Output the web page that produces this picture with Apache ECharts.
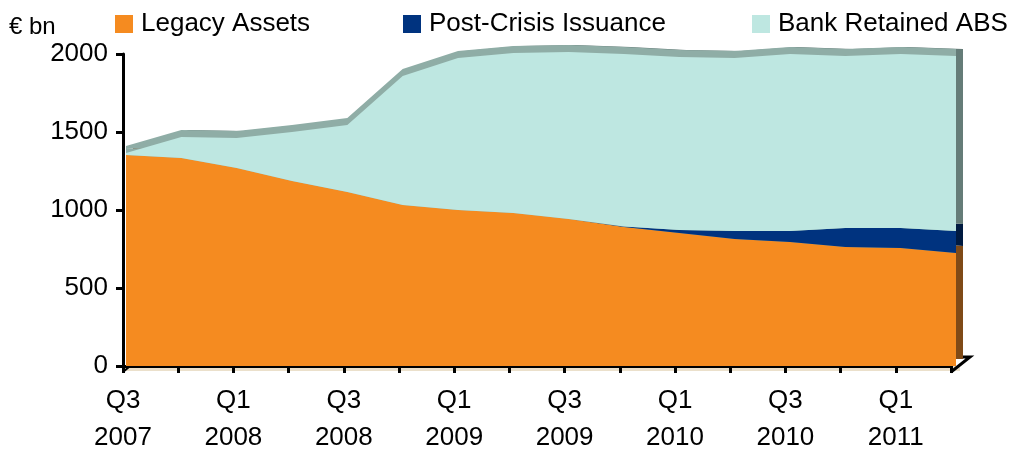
<!DOCTYPE html>
<html>
<head>
<meta charset="utf-8">
<script src="https://cdn.jsdelivr.net/npm/echarts@6/dist/echarts.min.js"></script>
<style>
  html, body { margin: 0; padding: 0; background: #fff; }
  #chart { width: 1013px; height: 456px; }
</style>
</head>
<body>
<div id="chart"></div>
<script>
const quarters = ["Q3 2007", "Q4 2007", "Q1 2008", "Q2 2008", "Q3 2008", "Q4 2008",
  "Q1 2009", "Q2 2009", "Q3 2009", "Q4 2009", "Q1 2010", "Q2 2010",
  "Q3 2010", "Q4 2010", "Q1 2011", "Q2 2011"];
const legacyAssets = [1327, 1308, 1245, 1164, 1094, 1013, 981, 962, 925, 874, 836, 799, 780, 748, 742, 711];
const postCrisis = [0, 0, 0, 0, 0, 0, 0, 0, 0, 3, 19, 50, 69, 120, 126, 138];
const bankRetained = [13, 132, 189, 308, 422, 811, 956, 1007, 1050, 1085, 1088, 1088, 1113, 1082, 1094, 1101];
const yTicks = [0, 500, 1000, 1500, 2000];

const names = ["Legacy Assets", "Post-Crisis Issuance", "Bank Retained ABS"];
const values = [legacyAssets, postCrisis, bankRetained];
const frontColors = ["#f58b20", "#00337f", "#bee7e1"];
const sideColors = ["#7f4a17", "#001a40", "#657c78"];
const topColor = "#8fada6";
const font = "'Liberation Sans', Arial, sans-serif";

const chart = echarts.init(document.getElementById("chart"));

// grids: 0 = axes, 1 = front face, 2 = top face (shifted up), 3 = side face (shifted up-right), 4 = floor
const grids = [
  { left: 123, right: 62, top: 54, bottom: 84 },
  { left: 126, right: 57, top: 48, bottom: 90 },
  { left: 126, right: 57, top: 41, bottom: 97 },
  { left: 133, right: 50, top: 41, bottom: 97 },
  { left: 125, right: 53, top: 366, bottom: 85, show: true, backgroundColor: "#ebe0cb", borderWidth: 0 }
];

const xAxes = grids.map((g, i) => ({
  gridIndex: i,
  type: "category",
  data: quarters,
  boundaryGap: false,
  show: i === 0,
  axisLine: { lineStyle: { color: "#000", width: 3 } },
  axisTick: { show: true, interval: 0, length: 7, lineStyle: { color: "#000", width: 3 } },
  axisLabel: {
    interval: 1,
    margin: 16,
    color: "#000",
    fontSize: 26,
    fontFamily: font,
    lineHeight: 37,
    formatter: (v) => v.replace(" ", "\n")
  }
}));

const yAxes = grids.map((g, i) => ({
  gridIndex: i,
  type: "value",
  min: yTicks[0],
  max: yTicks[yTicks.length - 1],
  interval: 500,
  show: i === 0,
  splitLine: { show: false },
  axisLine: { show: true, lineStyle: { color: "#000", width: 3 } },
  axisTick: { show: true, length: 7, lineStyle: { color: "#000", width: 3 } },
  axisLabel: { margin: 15, color: "#000", fontSize: 26, fontFamily: font, formatter: (v) => String(v) }
}));

function layer(gridIndex, colors, z, suffix) {
  return values.map((vals, k) => ({
    name: names[k] + suffix,
    type: "line",
    stack: "s" + gridIndex,
    xAxisIndex: gridIndex,
    yAxisIndex: gridIndex,
    data: vals,
    symbol: "none",
    silent: true,
    z: z,
    lineStyle: { width: 0 },
    itemStyle: { color: colors[k] },
    areaStyle: { color: colors[k], opacity: 1 }
  }));
}

const series = [
  ...layer(3, sideColors, 1, " side"),
  ...layer(2, [topColor, topColor, topColor], 2, " top"),
  ...layer(1, frontColors, 3, "")
];

const legendLeft = [115, 403, 752];
const legends = names.map((n, k) => ({
  data: [{ name: n, icon: "rect" }],
  left: legendLeft[k],
  top: 11,
  padding: 0,
  itemWidth: 18,
  itemHeight: 18,
  selectedMode: false,
  textStyle: { fontSize: 26, fontFamily: font, color: "#000", lineHeight: 26, padding: [0, 0, 0, 3] }
}));

chart.setOption({
  animation: false,
  title: {
    text: "€ bn",
    left: 9,
    top: 15,
    padding: 0,
    textStyle: { fontSize: 24, fontWeight: "normal", fontFamily: font, color: "#000", lineHeight: 24 }
  },
  legend: legends,
  grid: grids,
  xAxis: xAxes,
  yAxis: yAxes,
  series: series,
  // 3D floor outline at the ends of the category axis
  graphic: [
    { type: "polyline", shape: { points: [[951, 372], [970, 357], [963, 357]] },
      style: { stroke: "#000", lineWidth: 3, fill: null }, z: 10 },
    { type: "line", shape: { x1: 123, y1: 372, x2: 129, y2: 367 },
      style: { stroke: "#000", lineWidth: 2 }, z: 10 }
  ]
});
</script>
</body>
</html>
